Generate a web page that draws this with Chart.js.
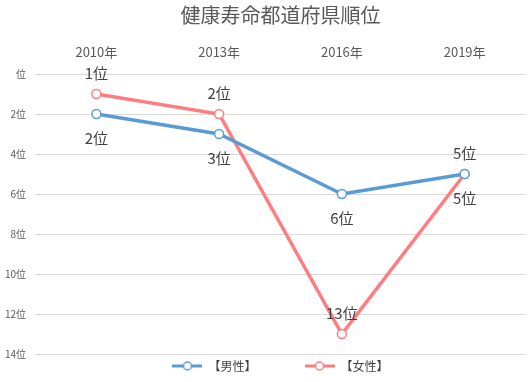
<!DOCTYPE html>
<html>
<head>
<meta charset="utf-8">
<script src="https://cdn.jsdelivr.net/npm/chart.js@4/dist/chart.umd.min.js"></script>
<style>
  html, body { margin: 0; padding: 0; background: #fff; }
  #wrap { width: 532px; height: 382px; }
</style>
</head>
<body>
<div id="wrap"><canvas id="myChart" width="532" height="382"></canvas></div>
<script>
const years = ['2010年', '2013年', '2016年', '2019年'];
const male = [2, 3, 6, 5];
const female = [1, 2, 13, 5];
const yTicks = [0, 2, 4, 6, 8, 10, 12, 14];

const BLUE = '#5B9BD5';
const PINK = '#FF7C80';
const FONT = '"Noto Sans CJK JP", "Noto Sans", sans-serif';

// little line + hollow circle used as legend marker
function legendIcon(color) {
  const c = document.createElement('canvas');
  c.width = 30; c.height = 12;
  const g = c.getContext('2d');
  g.strokeStyle = color;
  g.lineWidth = 3;
  g.beginPath(); g.moveTo(0, 6); g.lineTo(30, 6); g.stroke();
  g.fillStyle = '#fff';
  g.lineWidth = 1.5;
  g.beginPath(); g.arc(15, 6, 4, 0, Math.PI * 2); g.fill(); g.stroke();
  return c;
}

const valueLabels = {
  id: 'valueLabels',
  afterDatasetsDraw(chart) {
    const ctx = chart.ctx;
    ctx.save();
    ctx.font = '15px ' + FONT;
    ctx.fillStyle = '#404040';
    ctx.textAlign = 'center';
    ctx.textBaseline = 'middle';
    chart.data.datasets.forEach((ds, i) => {
      const meta = chart.getDatasetMeta(i);
      const dy = i === 0 ? 24 : -21;
      meta.data.forEach((pt, j) => {
        ctx.fillText(ds.data[j] + '位', pt.x, pt.y + dy);
      });
    });
    ctx.restore();
  }
};

var ctx = document.getElementById('myChart').getContext('2d');
var chart = new Chart(ctx, {
  type: 'line',
  data: {
    labels: years,
    datasets: [{
      label: '【男性】',
      data: male,
      borderColor: BLUE,
      backgroundColor: '#fff',
      borderWidth: 3.5,
      pointRadius: 4.5,
      pointBorderWidth: 1.5,
      pointBackgroundColor: '#fff',
      tension: 0
    }, {
      label: '【女性】',
      data: female,
      borderColor: PINK,
      backgroundColor: '#fff',
      borderWidth: 3.5,
      pointRadius: 4.5,
      pointBorderWidth: 1.5,
      pointBackgroundColor: '#fff',
      tension: 0
    }]
  },
  options: {
    responsive: false,
    animation: false,
    layout: { padding: { left: 0, right: 3, top: 0, bottom: 0 } },
    plugins: {
      title: {
        display: true,
        fullSize: false,
        text: '健康寿命都道府県順位',
        color: '#595959',
        font: { family: FONT, size: 20, weight: 'normal' },
        padding: { top: 3, bottom: 7 }
      },
      legend: {
        position: 'bottom',
        fullSize: false,
        labels: {
          color: '#404040',
          font: { family: FONT, size: 12 },
          usePointStyle: true,
          pointStyleWidth: 30,
          padding: 6,
          generateLabels(chart) {
            return chart.data.datasets.map((ds, i) => ({
              // trailing full-width spaces widen the gap between the two items
              text: i === 0 ? ds.label + '\u3000\u3000\u3000\u3000' : ds.label,
              pointStyle: legendIcon(ds.borderColor),
              fillStyle: '#fff',
              strokeStyle: ds.borderColor,
              lineWidth: 0,
              datasetIndex: i,
              fontColor: '#404040'
            }));
          }
        }
      },
      tooltip: { enabled: false }
    },
    scales: {
      x: {
        position: 'top',
        offset: true,
        grid: { display: false },
        border: { display: false },
        ticks: { color: '#595959', font: { family: FONT, size: 13 }, padding: 6 },
        afterFit(scale) { scale.height = 40; }
      },
      y: {
        reverse: true,
        min: 0,
        max: 14,
        afterBuildTicks(scale) { scale.ticks = yTicks.map(v => ({ value: v })); },
        grid: { color: '#d9d9d9', lineWidth: 1, drawTicks: false },
        border: { display: false },
        ticks: {
          color: '#595959',
          font: { family: FONT, size: 10 },
          padding: 9,
          callback: v => (v === 0 ? '' : v) + '位'
        },
        afterFit(scale) { scale.width = 35; }
      }
    }
  },
  plugins: [valueLabels]
});
</script>
</body>
</html>
